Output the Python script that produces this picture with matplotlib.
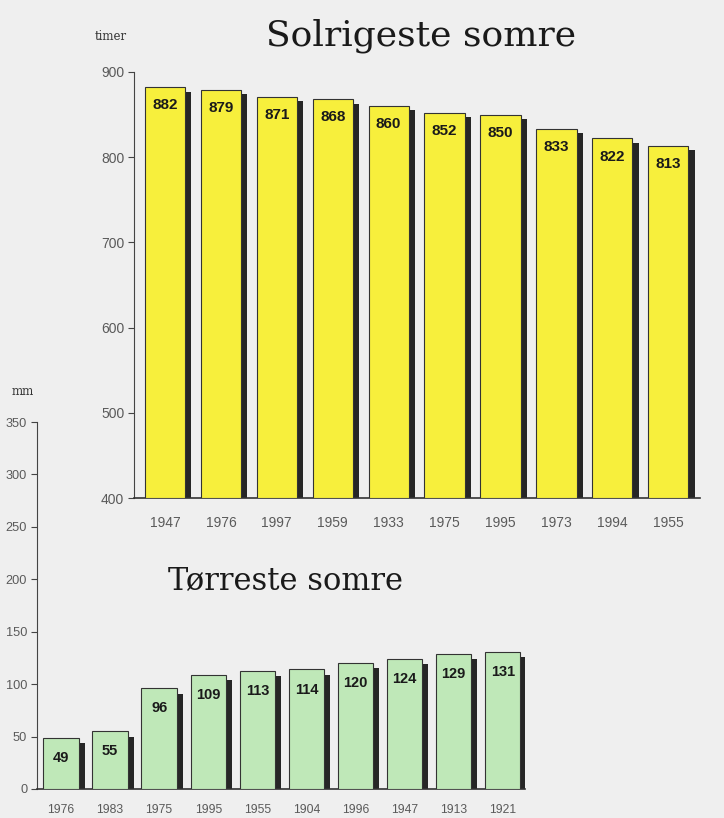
import matplotlib.pyplot as plt
import numpy as np

# Solrigeste somre (timer)
sol_aar = ['1947', '1976', '1997', '1959', '1933', '1975', '1995', '1973', '1994', '1955']
sol_timer = [882, 879, 871, 868, 860, 852, 850, 833, 822, 813]

# Tørreste somre (mm)
tor_aar = ['1976', '1983', '1975', '1995', '1955', '1904', '1996', '1947', '1913', '1921']
tor_mm = [49, 55, 96, 109, 113, 114, 120, 124, 129, 131]

bakgrunn = '#efefef'
gul = '#f7ef3c'
gronn = '#bfe8b8'
skygge = '#262626'
graa = '#5a5a5a'


def tegn_soyler(ax, verdier, farge, bunn, skygge_dx, skygge_dy, tekst_str, tekst_dy):
    x = np.arange(len(verdier))
    v = np.array(verdier, dtype=float)
    # skygge bak søylene
    ax.bar(x + skygge_dx, v - bunn - skygge_dy, bottom=bunn, width=0.72,
           color=skygge, edgecolor='none', zorder=2)
    ax.bar(x, v - bunn, bottom=bunn, width=0.72, color=farge,
           edgecolor='#333333', linewidth=0.8, zorder=3)
    for xi, vi in zip(x, verdier):
        ax.annotate(str(vi), (xi, vi), xytext=(0, tekst_dy), textcoords='offset points',
                    ha='center', va='center', fontsize=tekst_str, fontweight='bold',
                    color='#1a1a1a', family='Liberation Sans', zorder=4)


def stil_akse(ax, aar, fs_x, fs_y, pad_x):
    ax.set_facecolor('none')
    for s in ['top', 'right']:
        ax.spines[s].set_visible(False)
    ax.spines['left'].set_color('#444444')
    ax.spines['left'].set_linewidth(0.8)
    ax.spines['bottom'].set_color('#333333')
    ax.spines['bottom'].set_linewidth(1.2)
    ax.set_xticks(np.arange(len(aar)))
    ax.set_xticklabels(aar, fontsize=fs_x, color=graa, family='Liberation Sans')
    ax.tick_params(axis='x', length=0, pad=pad_x)
    ax.tick_params(axis='y', length=4, width=0.8, colors='#444444', labelsize=fs_y,
                   labelcolor=graa, pad=3)
    for t in ax.get_yticklabels():
        t.set_family('Liberation Sans')


fig = plt.figure(figsize=(7.24, 8.18), dpi=100)
fig.patch.set_facecolor(bakgrunn)

# nederste diagram først, så det øverste ligger over
ax2 = fig.add_axes([0.051, 0.0355, 0.674, 0.4485])
tegn_soyler(ax2, tor_mm, gronn, 0, 0.12, 5, 10.5, -14.5)
ax2.set_xlim(-0.49, 9.45)
ax2.set_ylim(0, 350)
ax2.set_yticks(np.arange(0, 351, 50))
stil_akse(ax2, tor_aar, 8.7, 9.2, 11)

ax1 = fig.add_axes([0.185, 0.391, 0.782, 0.521])
tegn_soyler(ax1, sol_timer, gul, 400, 0.11, 5, 11, -13)
ax1.set_xlim(-0.555, 9.57)
ax1.set_ylim(400, 900)
ax1.set_yticks(np.arange(400, 901, 100))
stil_akse(ax1, sol_aar, 10, 10, 13)

fig.text(95 / 724, 1 - 36 / 818, 'timer', fontsize=8.5, family='DejaVu Serif',
         color='#333333', ha='left', va='center')
fig.text(421 / 724, 1 - 36 / 818, 'Solrigeste somre', fontsize=26, family='DejaVu Serif',
         color='#1a1a1a', ha='center', va='center')
fig.text(12 / 724, 1 - 391 / 818, 'mm', fontsize=8.5, family='DejaVu Serif',
         color='#333333', ha='left', va='center')
fig.text(286 / 724, 1 - 581 / 818, 'Tørreste somre', fontsize=22, family='DejaVu Serif',
         color='#1a1a1a', ha='center', va='center')

fig.savefig('out.png', dpi=100, facecolor=fig.get_facecolor())
